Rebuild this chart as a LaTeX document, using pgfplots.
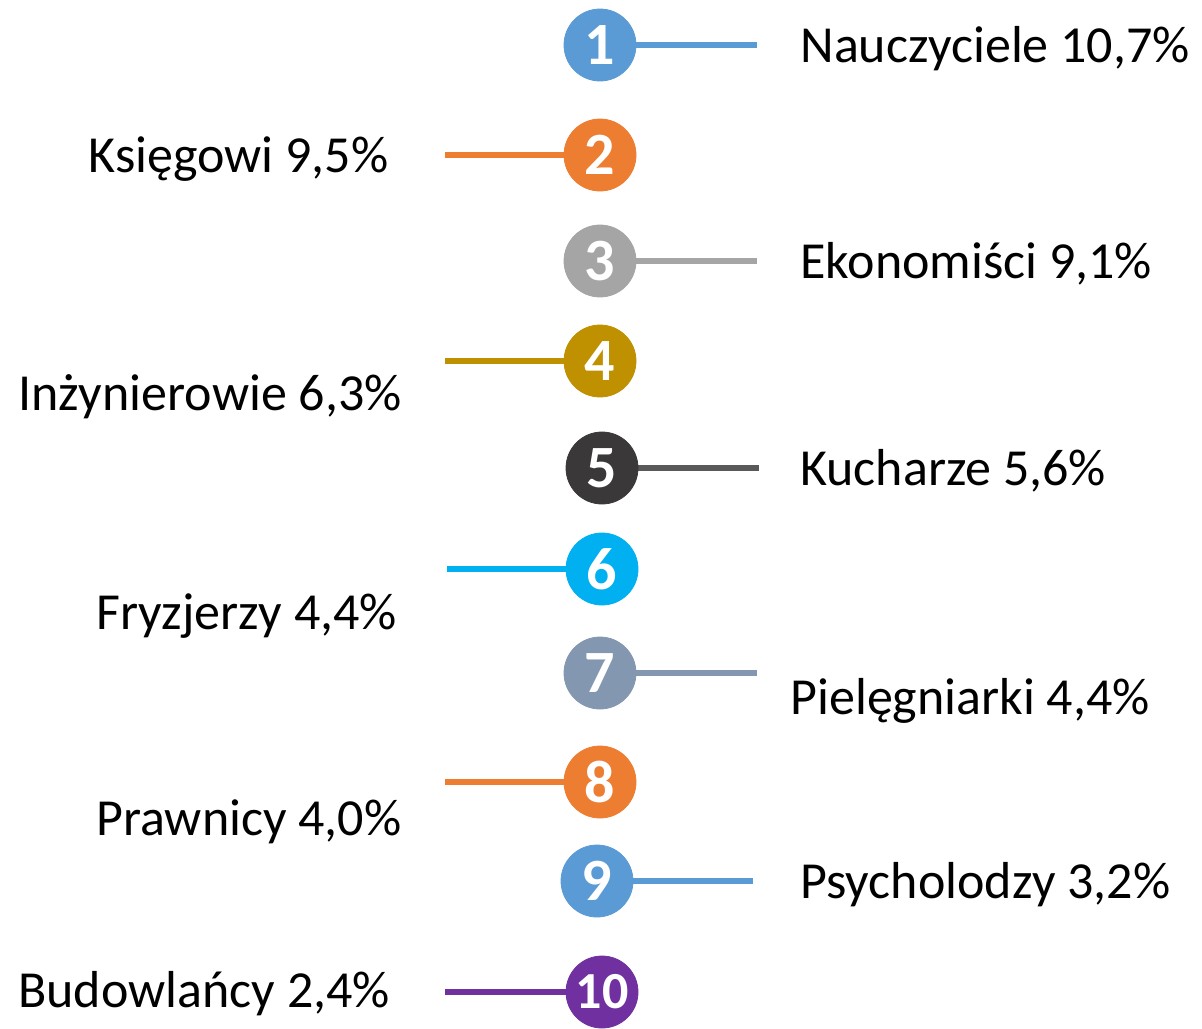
\documentclass[border=0pt]{standalone}
\usepackage{pgfplots}
\pgfplotsset{compat=1.18}
\usepackage{fontspec}
\setmainfont{Carlito}

\definecolor{cblue}{HTML}{5B9BD5}
\definecolor{corange}{HTML}{ED7D31}
\definecolor{cgray}{HTML}{A5A5A5}
\definecolor{cgold}{HTML}{BF9000}
\definecolor{cdark}{HTML}{3A3838}
\definecolor{cdarkline}{HTML}{595959}
\definecolor{ccyan}{HTML}{00B0F0}
\definecolor{cslate}{HTML}{8497B0}
\definecolor{cpurple}{HTML}{7030A0}

% one rank: line from x1 to x2 at y, then the numbered circle at (cx,y)
\newcommand{\rank}[8]{%
  \addplot[draw=#6, line width=3pt] coordinates {(#1,#3) (#2,#3)};
  \addplot[only marks, mark=*, mark size=18pt, color=#5,
    nodes near coords={#7},
    every node near coord/.append style={anchor=center, inner sep=0pt,
      text=white, font=\fontsize{#8}{#8}\selectfont\bfseries}]
    coordinates {(#4,#3)};
}

\begin{document}
\begin{tikzpicture}
\begin{axis}[
    width=601pt, height=512.5pt, scale only axis,
    xmin=0, xmax=1202, ymin=0, ymax=1025,
    y dir=reverse,
    hide axis, clip=false,
]
\path (axis cs:0,0) rectangle (axis cs:1202,1025);

\rank{600}{757}{45}{600}{cblue}{cblue}{1}{30}
\rank{445}{600}{155}{600}{corange}{corange}{2}{30}
\rank{600}{757}{261}{600}{cgray}{cgray}{3}{30}
\rank{445}{600}{361}{600}{cgold}{cgold}{4}{30}
\rank{602}{759}{468}{602}{cdark}{cdarkline}{5}{30}
\rank{447}{602}{569}{602}{ccyan}{ccyan}{6}{30}
\rank{600}{757}{673}{600}{cslate}{cslate}{7}{30}
\rank{445}{600}{782}{600}{corange}{corange}{8}{30}
\rank{597}{753}{881}{597}{cblue}{cblue}{9}{30}
\rank{445}{602}{992}{602}{cpurple}{cpurple}{10}{26}

\begin{scope}[every node/.style={inner sep=0pt, font=\fontsize{26}{28}\selectfont}]
\node[anchor=base west] at (axis cs:800,62) {Nauczyciele 10,7\%};
\node[anchor=base west] at (axis cs:88,172) {Księgowi 9,5\%};
\node[anchor=base west] at (axis cs:800,278) {Ekonomiści 9,1\%};
\node[anchor=base west] at (axis cs:18,410) {Inżynierowie 6,3\%};
\node[anchor=base west] at (axis cs:800,485) {Kucharze 5,6\%};
\node[anchor=base west] at (axis cs:96,629) {Fryzjerzy 4,4\%};
\node[anchor=base west] at (axis cs:790,714) {Pielęgniarki 4,4\%};
\node[anchor=base west] at (axis cs:96,835) {Prawnicy 4,0\%};
\node[anchor=base west] at (axis cs:800,898) {Psycholodzy 3,2\%};
\node[anchor=base west] at (axis cs:18,1007) {Budowlańcy 2,4\%};
\end{scope}
\end{axis}
\end{tikzpicture}
\end{document}
